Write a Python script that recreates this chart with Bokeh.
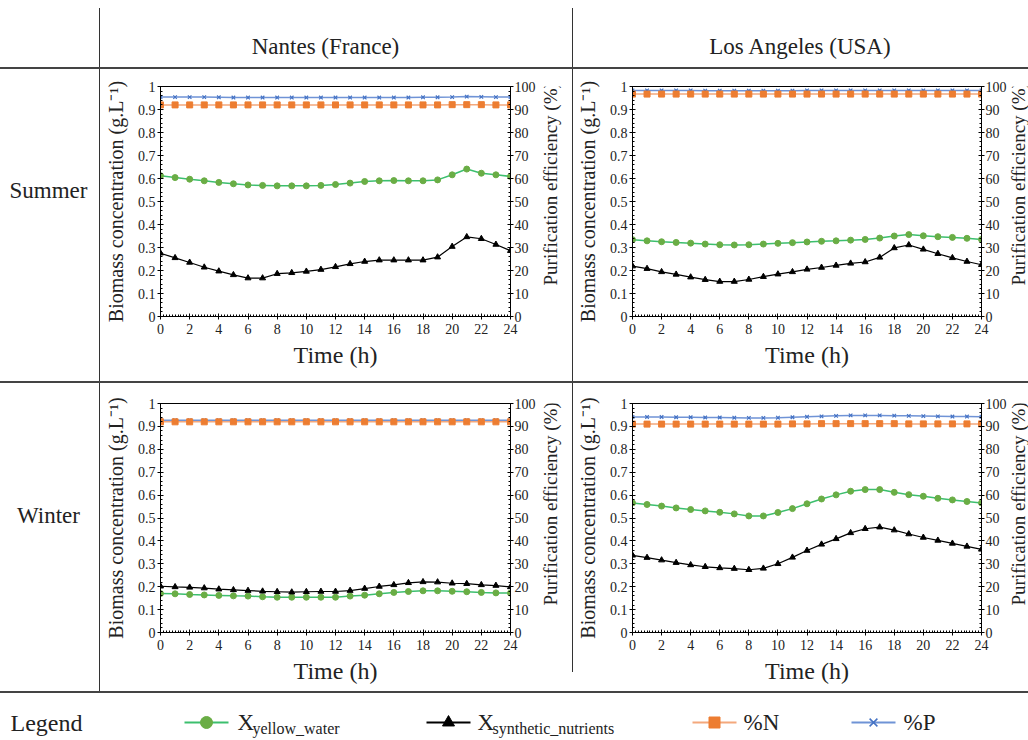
import math
from bokeh.plotting import figure
from bokeh.models import Range1d, LinearAxis, FixedTicker, Div
from bokeh.layouts import row, column
from bokeh.core.properties import value
from bokeh.embed import file_html
from bokeh.resources import INLINE

# ---------------- data ----------------
HOURS = [0, 1, 2, 3, 4, 5, 6, 7, 8, 9, 10, 11, 12, 13, 14, 15, 16, 17, 18, 19, 20, 21, 22, 23, 24]

NANTES_SUMMER_YW = [0.612, 0.604, 0.597, 0.590, 0.583, 0.577, 0.572, 0.570, 0.568, 0.568, 0.568, 0.570, 0.574,
                    0.580, 0.587, 0.590, 0.591, 0.590, 0.590, 0.594, 0.616, 0.641, 0.623, 0.616, 0.609]
NANTES_SUMMER_SN = [0.275, 0.255, 0.235, 0.214, 0.197, 0.181, 0.167, 0.167, 0.186, 0.190, 0.196, 0.204, 0.216,
                    0.229, 0.239, 0.245, 0.245, 0.245, 0.245, 0.258, 0.304, 0.346, 0.338, 0.313, 0.286]
NANTES_SUMMER_N = [92.0, 92.0, 92.0, 92.0, 92.0, 92.0, 92.0, 92.0, 92.0, 92.0, 92.0, 92.0, 92.0,
                   92.0, 92.0, 92.0, 92.0, 92.0, 92.0, 92.0, 92.1, 92.1, 92.1, 92.0, 92.0]
NANTES_SUMMER_P = [95.4, 95.4, 95.4, 95.4, 95.3, 95.2, 95.2, 95.2, 95.2, 95.2, 95.2, 95.2, 95.2,
                   95.2, 95.2, 95.2, 95.2, 95.2, 95.3, 95.3, 95.4, 95.6, 95.5, 95.4, 95.4]

LA_SUMMER_YW = [0.334, 0.329, 0.325, 0.322, 0.319, 0.315, 0.312, 0.311, 0.312, 0.315, 0.318, 0.321, 0.324,
                0.327, 0.329, 0.332, 0.335, 0.341, 0.350, 0.356, 0.351, 0.347, 0.344, 0.340, 0.335]
LA_SUMMER_SN = [0.219, 0.208, 0.194, 0.183, 0.171, 0.160, 0.152, 0.152, 0.161, 0.173, 0.184, 0.194, 0.205,
                0.213, 0.222, 0.231, 0.237, 0.257, 0.298, 0.311, 0.292, 0.273, 0.255, 0.239, 0.225]
LA_SUMMER_N = [96.7, 96.7, 96.7, 96.7, 96.7, 96.7, 96.7, 96.7, 96.7, 96.7, 96.7, 96.7, 96.7,
               96.7, 96.7, 96.7, 96.7, 96.7, 96.7, 96.7, 96.7, 96.7, 96.7, 96.7, 96.7]
LA_SUMMER_P = [98.3, 98.3, 98.3, 98.3, 98.3, 98.2, 98.2, 98.2, 98.2, 98.2, 98.2, 98.2, 98.3,
               98.3, 98.3, 98.3, 98.3, 98.3, 98.3, 98.3, 98.3, 98.3, 98.3, 98.3, 98.3]

NANTES_WINTER_YW = [0.170, 0.169, 0.166, 0.164, 0.162, 0.160, 0.159, 0.156, 0.154, 0.154, 0.154, 0.154, 0.154,
                    0.159, 0.163, 0.169, 0.175, 0.179, 0.182, 0.182, 0.180, 0.178, 0.175, 0.173, 0.172]
NANTES_WINTER_SN = [0.202, 0.199, 0.197, 0.194, 0.189, 0.186, 0.183, 0.180, 0.178, 0.176, 0.178, 0.179, 0.179,
                    0.183, 0.192, 0.201, 0.208, 0.217, 0.221, 0.220, 0.215, 0.213, 0.208, 0.205, 0.199]
NANTES_WINTER_N = [92.0, 92.0, 92.0, 92.0, 92.0, 92.0, 92.0, 92.0, 92.0, 92.0, 92.0, 92.0, 92.0,
                   92.0, 92.0, 92.0, 92.0, 92.0, 92.0, 92.0, 92.0, 92.0, 92.0, 92.0, 92.0]
NANTES_WINTER_P = [92.7, 92.7, 92.7, 92.7, 92.7, 92.7, 92.7, 92.7, 92.7, 92.7, 92.7, 92.7, 92.7,
                   92.7, 92.7, 92.7, 92.7, 92.7, 92.7, 92.7, 92.7, 92.7, 92.7, 92.7, 92.7]

LA_WINTER_YW = [0.566, 0.559, 0.552, 0.544, 0.537, 0.531, 0.525, 0.518, 0.509, 0.509, 0.524, 0.541, 0.562,
                0.583, 0.601, 0.617, 0.624, 0.624, 0.612, 0.602, 0.595, 0.586, 0.579, 0.572, 0.566]
LA_WINTER_SN = [0.337, 0.327, 0.316, 0.305, 0.295, 0.287, 0.282, 0.279, 0.274, 0.280, 0.300, 0.328, 0.358,
                0.385, 0.409, 0.435, 0.453, 0.460, 0.447, 0.430, 0.415, 0.402, 0.389, 0.376, 0.363]
LA_WINTER_N = [91.0, 91.0, 91.0, 91.0, 91.0, 91.0, 91.0, 91.0, 91.0, 91.0, 91.0, 91.1, 91.1,
               91.2, 91.2, 91.2, 91.2, 91.2, 91.2, 91.1, 91.1, 91.1, 91.1, 91.1, 91.1]
LA_WINTER_P = [94.1, 94.1, 94.1, 94.0, 94.0, 93.9, 93.9, 93.8, 93.7, 93.7, 93.8, 94.0, 94.2,
               94.4, 94.6, 94.8, 94.8, 94.8, 94.7, 94.6, 94.5, 94.4, 94.3, 94.3, 94.2]

COLUMN_TITLES = ["Nantes (France)", "Los Angeles (USA)"]
ROW_TITLES = ["Summer", "Winter"]
X_TICKS = [0, 2, 4, 6, 8, 10, 12, 14, 16, 18, 20, 22, 24]
Y_TICKS = [0.0, 0.1, 0.2, 0.3, 0.4, 0.5, 0.6, 0.7, 0.8, 0.9, 1.0]
Y_TICK_LABELS = ["0", "0.1", "0.2", "0.3", "0.4", "0.5", "0.6", "0.7", "0.8", "0.9", "1"]
PCT_TICKS = [0, 10, 20, 30, 40, 50, 60, 70, 80, 90, 100]
RIGHT_LABEL = "Purification efficiency (%)"
LEGEND_MAIN = ["X", "X", "%N", "%P"]
LEGEND_SUB = ["yellow_water", "synthetic_nutrients", "", ""]

# ---------------- styles ----------------
FONT = "Liberation Serif"
TXT = "#222222"
GREEN_L, GREEN_M = "#3cbf6e", "#6aad45"
BLACK = "#000000"
ORANGE_L, ORANGE_M = "#f4a87c", "#ed7d31"
BLUE_L, BLUE_M = "#6f93d6", "#4472c4"
SEP = "#333333"

COL_W = [99, 472, 455]
PANEL_W = [438, 436]          # plot part of the two plot columns; the rest holds the right-hand label
LABEL_X = [12, 9]
HEAD_H = 67
ROW_H = [312, 308]
LEG_H = 47


def style_axis(ax):
    ax.axis_line_color = "black"
    ax.major_tick_in = 3
    ax.major_tick_out = 3
    ax.minor_tick_in = 2
    ax.minor_tick_out = 0
    ax.major_tick_line_color = "black"
    ax.minor_tick_line_color = "black"
    ax.major_label_text_font = FONT
    ax.major_label_text_font_size = "14px"
    ax.major_label_text_color = TXT
    ax.major_label_standoff = 2
    ax.axis_label_text_font = FONT
    ax.axis_label_text_font_style = "normal"
    ax.axis_label_text_color = TXT


def panel(w, h, yw, sn, pn, pp, left, right, top, bottom):
    p = figure(width=w, height=h, output_backend="svg", toolbar_location=None,
               x_range=Range1d(0, 24), y_range=Range1d(0, 1),
               min_border_left=left, min_border_right=right,
               min_border_top=top, min_border_bottom=bottom,
               outline_line_color="black", outline_line_width=1,
               background_fill_color="white", border_fill_color="white", margin=0)
    p.extra_y_ranges = {"pct": Range1d(0, 100)}
    p.grid.visible = False

    xa = p.xaxis[0]
    xa.ticker = FixedTicker(ticks=X_TICKS, minor_ticks=[i * 0.2 for i in range(121)])
    xa.axis_label = "Time (h)"
    xa.axis_label_text_font_size = "24px"
    xa.axis_label_standoff = 5
    style_axis(xa)
    xa.major_label_standoff = 4

    ya = p.yaxis[0]
    ya.ticker = FixedTicker(ticks=Y_TICKS, minor_ticks=[i * 0.02 for i in range(51)])
    ya.major_label_overrides = dict(zip(Y_TICKS, Y_TICK_LABELS))
    ya.axis_label = "Biomass concentration (g.L⁻¹)"
    ya.axis_label_text_font_size = "20px"
    ya.axis_label_standoff = 8
    style_axis(ya)

    ra = LinearAxis(y_range_name="pct")
    ra.ticker = FixedTicker(ticks=PCT_TICKS, minor_ticks=[i * 2 for i in range(51)])
    style_axis(ra)
    ra.major_label_standoff = 1
    p.add_layout(ra, "right")

    p.line(HOURS, pp, color=BLUE_L, line_width=1.5, y_range_name="pct")
    p.scatter(HOURS, pp, marker="x", size=5, line_color=BLUE_M, line_width=1.2, y_range_name="pct")
    p.line(HOURS, pn, color=ORANGE_L, line_width=1.5, y_range_name="pct")
    p.scatter(HOURS, pn, marker="square", size=6, fill_color=ORANGE_M, line_color=ORANGE_M, y_range_name="pct")
    p.line(HOURS, yw, color=GREEN_L, line_width=1.5)
    p.scatter(HOURS, yw, marker="circle", size=6, fill_color=GREEN_M, line_color=GREEN_M)
    p.line(HOURS, sn, color=BLACK, line_width=1.2)
    p.scatter(HOURS, sn, marker="triangle", size=6, fill_color=BLACK, line_color=BLACK)
    return p


def text_cell(w, h, txt=None, x=0, y=0, align="center", size="23px", angle=0.0):
    p = figure(width=w, height=h, output_backend="svg", toolbar_location=None,
               x_range=Range1d(0, w), y_range=Range1d(0, h),
               x_axis_type=None, y_axis_type=None, min_border=0, margin=0,
               outline_line_color=None, background_fill_color="white", border_fill_color="white")
    p.grid.visible = False
    if txt is not None:
        p.text(x=[x], y=[y], text=[txt], text_font=value(FONT), text_font_size=size, angle=angle,
               text_color=TXT, text_align=align, text_baseline="middle")
    return p


def vsep(h, top=0, bottom=0):
    return Div(text="", width=1, height=h, margin=(top, 0, bottom, 0), styles={"background-color": SEP})


def hsep():
    return Div(text="", width=sum(COL_W) + 2, height=2, margin=0, styles={"background-color": "#444444"})


def right_label(k, h, y):
    w = COL_W[k + 1] - PANEL_W[k]
    return text_cell(w, h, RIGHT_LABEL, LABEL_X[k], y, size="19px", angle=math.pi / 2)


# header row
header = row(
    text_cell(COL_W[0], HEAD_H),
    vsep(HEAD_H - 8, top=8),
    text_cell(COL_W[1], HEAD_H, COLUMN_TITLES[0], 225, 21),
    vsep(HEAD_H - 8, top=8),
    text_cell(COL_W[2], HEAD_H, COLUMN_TITLES[1], 227, 21),
    spacing=0, margin=0,
)

row1 = row(
    text_cell(COL_W[0], ROW_H[0], ROW_TITLES[0], 48, 171),
    vsep(ROW_H[0]),
    panel(PANEL_W[0], ROW_H[0], NANTES_SUMMER_YW, NANTES_SUMMER_SN, NANTES_SUMMER_N, NANTES_SUMMER_P, 60, 26, 17, 65),
    right_label(0, ROW_H[0], 180),
    vsep(ROW_H[0]),
    panel(PANEL_W[1], ROW_H[0], LA_SUMMER_YW, LA_SUMMER_SN, LA_SUMMER_N, LA_SUMMER_P, 59, 26, 17, 65),
    right_label(1, ROW_H[0], 180),
    spacing=0, margin=0,
)

row2 = row(
    text_cell(COL_W[0], ROW_H[1], ROW_TITLES[1], 48, 157),
    vsep(ROW_H[1]),
    panel(PANEL_W[0], ROW_H[1], NANTES_WINTER_YW, NANTES_WINTER_SN, NANTES_WINTER_N, NANTES_WINTER_P, 60, 26, 20, 59),
    right_label(0, ROW_H[1], 173),
    vsep(ROW_H[1] - 19, bottom=19),
    panel(PANEL_W[1], ROW_H[1], LA_WINTER_YW, LA_WINTER_SN, LA_WINTER_N, LA_WINTER_P, 59, 26, 20, 59),
    right_label(1, ROW_H[1], 173),
    spacing=0, margin=0,
)

# legend row
LW = sum(COL_W) + 2
leg = text_cell(LW, LEG_H, "Legend", 10, 18, align="left", size="24px")
key_x = [206, 448, 714, 873]
text_x = [237, 477, 743, 903]
line_cols = [GREEN_L, "black", ORANGE_L, BLUE_L]
mk = ["circle", "triangle", "square", "x"]
mk_cols = [GREEN_M, "black", ORANGE_M, BLUE_M]
mk_size = [12, 12, 11, 11]
ky = 18
for i in range(4):
    leg.segment(x0=[key_x[i] - 22], y0=[ky], x1=[key_x[i] + 22], y1=[ky], line_color=line_cols[i], line_width=2)
    if mk[i] == "x":
        leg.scatter(x=[key_x[i]], y=[ky], marker="x", size=mk_size[i], line_color=mk_cols[i], line_width=1.5)
    else:
        leg.scatter(x=[key_x[i]], y=[ky], marker=mk[i], size=mk_size[i], fill_color=mk_cols[i], line_color=mk_cols[i])
    leg.text(x=[text_x[i]], y=[ky], text=[LEGEND_MAIN[i]], text_font=value(FONT), text_font_size="23px",
             text_color=TXT, text_align="left", text_baseline="middle")
    if LEGEND_SUB[i]:
        leg.text(x=[text_x[i] + 15], y=[ky - 6], text=[LEGEND_SUB[i]], text_font=value(FONT),
                 text_font_size="16px", text_color=TXT, text_align="left", text_baseline="middle")

layout = column(header, hsep(), row1, hsep(), row2, hsep(), leg, spacing=0, margin=0)

open("out.html", "w").write(file_html(layout, INLINE))
